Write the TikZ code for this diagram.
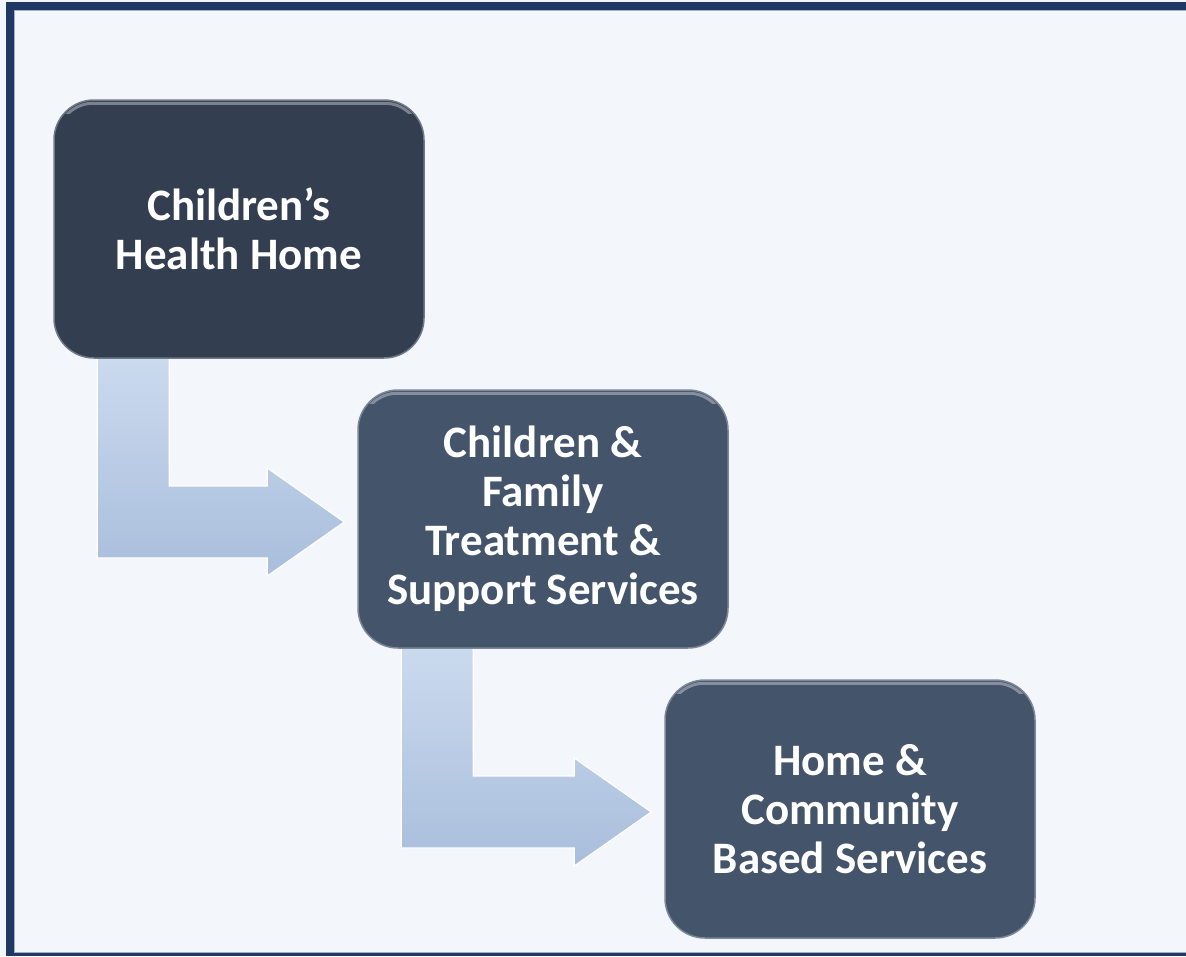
\documentclass[tikz,border=0pt]{standalone}
\usepackage{fontspec}
\setmainfont{Carlito}
\usetikzlibrary{calc}
\pgfdeclarelayer{arrows}
\pgfdeclarelayer{shine}
\pgfsetlayers{arrows,main,shine}
\definecolor{bgcol}{HTML}{F3F7FB}
\definecolor{framecol}{HTML}{1F3864}
\definecolor{darkbox}{HTML}{333F50}
\definecolor{midbox}{HTML}{44546A}
\definecolor{arrowtop}{HTML}{CBDAEE}
\definecolor{arrowbot}{HTML}{A9BEDC}
\tikzset{
  stagebox/.style={rounded corners=40pt, minimum width=370pt, minimum height=258pt,
    inner sep=0pt, align=center, text=white, font=\fontsize{45}{49}\selectfont\bfseries,
    draw=#1!70!white, line width=1.5pt, fill=#1},
  flowarrow/.style={top color=arrowtop, bottom color=arrowbot, draw=white, line width=1.2pt},
  shineline/.style={draw=white, draw opacity=0.35, line width=3pt, rounded corners=36pt},
}
\newcommand\lflowarrow[2]{%
  \path[flowarrow] let \p1=(#1.south west), \p2=(#2.west) in
    (\x1+44pt,\y1+4pt) -- (\x1+116pt,\y1+4pt) -- (\x1+116pt,\y2+33pt)
    -- (\x2-90pt,\y2+33pt) -- (\x2-90pt,\y2+51pt) -- (\x2-13pt,\y2-3pt)
    -- (\x2-90pt,\y2-57pt) -- (\x2-90pt,\y2-39pt) -- (\x1+44pt,\y2-39pt) -- cycle;
}
\newcommand\boxshine[1]{%
  \begin{scope}
  \clip ($(#1.north west)+(0,-2)$) rectangle ($(#1.north east)+(0,14)$);
  \path[shineline] ($(#1.north west)+(4,4)$) rectangle ($(#1.south east)+(-4,-4)$);
  \end{scope}
}
\begin{document}
\begin{tikzpicture}[x=1pt,y=-1pt]
\useasboundingbox (0,0) rectangle (1186,956);
\begin{pgfonlayer}{arrows}
\fill[bgcol] (0,0) rectangle (1186,956);
\fill[framecol] (6,2) rectangle (1186,10);
\fill[framecol] (6,2) rectangle (14,956);
\fill[framecol] (6,953) rectangle (1186,956);
\draw[framecol!40!white, line width=1pt] (1186,10.5) -- (14.5,10.5) -- (14.5,952.5) -- (1186,952.5);
\end{pgfonlayer}
\node[stagebox=darkbox] (b1) at (239,229) {Children’s\\Health Home};
\node[stagebox=midbox] (b2) at (543,519) {Children \&\\Family\\Treatment \&\\Support Services};
\node[stagebox=midbox] (b3) at (850,809) {Home \&\\Community\\Based Services};
\begin{pgfonlayer}{arrows}
\lflowarrow{b1}{b2}
\lflowarrow{b2}{b3}
\end{pgfonlayer}
\begin{pgfonlayer}{shine}
\boxshine{b1}
\boxshine{b2}
\boxshine{b3}
\end{pgfonlayer}
\end{tikzpicture}
\end{document}
